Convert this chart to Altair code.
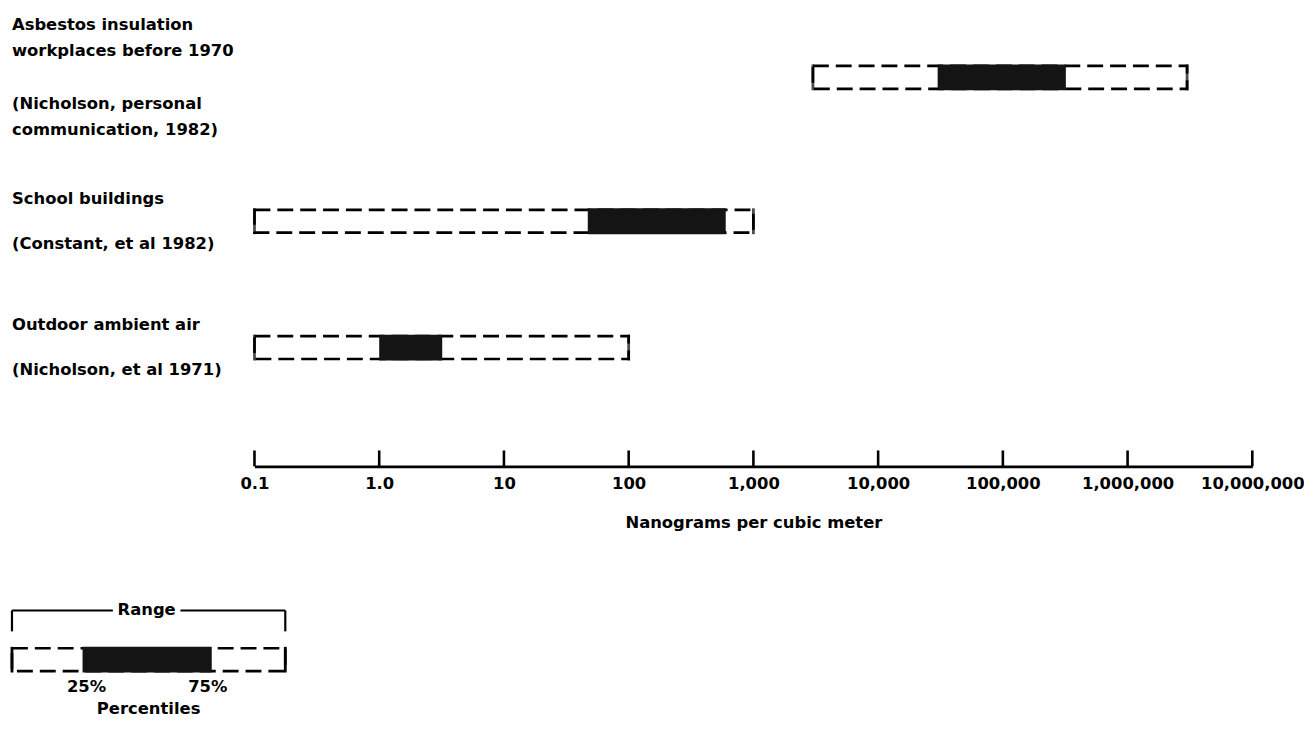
import altair as alt
import pandas as pd

# ---------------- data ----------------
categories = ["Asbestos insulation workplaces", "School buildings", "Outdoor ambient air"]
label_titles = [
    ["Asbestos insulation", "workplaces before 1970"],
    ["School buildings"],
    ["Outdoor ambient air"],
]
label_cites = [
    ["(Nicholson, personal", "communication, 1982)"],
    ["(Constant, et al 1982)"],
    ["(Nicholson, et al 1971)"],
]
range_low = [3000, 0.1, 0.1]
range_high = [3000000, 1000, 100]
pct25 = [30000, 47, 1.0]
pct75 = [320000, 600, 3.2]

tick_values = [0.1, 1, 10, 100, 1000, 10000, 100000, 1000000, 10000000]
tick_labels = ["0.1", "1.0", "10", "100", "1,000", "10,000", "100,000", "1,000,000", "10,000,000"]

legend_texts = ["Range", "25%", "75%", "Percentiles"]

# ---------------- layout helpers ----------------
W, H = 1004, 459
FONT = "DejaVu Sans"
n_lines = [len(t) + 1 + len(c) for t, c in zip(label_titles, label_cites)]
gap = 4.22          # vertical gap between label blocks (line units)
unit_px = 18        # pixels per line unit on the row scale
top_px = 19
slot = []
acc = 0.0
for n in n_lines:
    slot.append(acc + n / 2)
    acc += n + gap

df = pd.DataFrame({
    "cat": categories,
    "title": label_titles,
    "cite": label_cites,
    "low": range_low,
    "high": range_high,
    "p25": pct25,
    "p75": pct75,
    "slot": slot,
})

label_expr = ""
for v, l in zip(tick_values, tick_labels):
    label_expr += f"datum.value < {v * 3.16} ? '{l}' : "
label_expr += "''"

xscale = alt.Scale(type="log", domain=[tick_values[0], tick_values[-1]], nice=False)
yscale = alt.Scale(domain=[-top_px / unit_px, (H - top_px) / unit_px], reverse=True, nice=False, zero=False)
yenc = alt.Y("slot:Q", scale=yscale, axis=None)

base = alt.Chart(df)

range_box = base.mark_bar(
    orient="horizontal", size=23, filled=False, stroke="black",
    strokeWidth=2.7, strokeDash=[16, 7]
).encode(
    x=alt.X("low:Q", scale=xscale, axis=alt.Axis(
        values=tick_values, labelExpr=label_expr, tickSize=0, grid=False,
        domainColor="black", domainWidth=2.6,
        labelFont=FONT, labelFontWeight="bold", labelFontSize=16.5, labelColor="black",
        labelPadding=9, labelFlush=False, labelOverlap=False,
        title="Nanograms per cubic meter", titleFont=FONT, titleFontWeight="bold",
        titleFontSize=16.5, titleColor="black", titlePadding=23,
    )),
    x2="high:Q",
    y=yenc,
)

end_lo = base.mark_tick(orient="vertical", size=26, thickness=2.8, color="black").encode(
    x=alt.X("low:Q", scale=xscale), y=yenc)
end_hi = base.mark_tick(orient="vertical", size=26, thickness=2.8, color="black").encode(
    x=alt.X("high:Q", scale=xscale), y=yenc)

pct_box = base.mark_bar(orient="horizontal", size=26, color="#141414").encode(
    x=alt.X("p25:Q", scale=xscale), x2="p75:Q", y=yenc)

text_props = dict(align="left", baseline="middle", font=FONT, fontWeight="bold",
                  fontSize=16.5, color="black")
lh_big, lh_small = 26.5, 22.5
big = base.transform_filter(alt.datum.cat == categories[0])
small = base.transform_filter(alt.datum.cat != categories[0])
title_big = big.mark_text(lineHeight=lh_big, dy=-(n_lines[0] - 1) * lh_big / 2, **text_props).encode(
    x=alt.value(-244), y=yenc, text="title")
cite_big = big.mark_text(lineHeight=lh_big, dy=lh_big, **text_props).encode(
    x=alt.value(-244), y=yenc, text="cite")
title_small = small.mark_text(lineHeight=lh_small, dy=-(n_lines[1] - 1) * lh_small / 2, **text_props).encode(
    x=alt.value(-244), y=yenc, text="title")
cite_small = small.mark_text(lineHeight=lh_small, dy=lh_small, **text_props).encode(
    x=alt.value(-244), y=yenc, text="cite")

ticks = alt.Chart(pd.DataFrame({"v": tick_values})).mark_rule(
    color="black", strokeWidth=2.6).encode(
    x=alt.X("v:Q", scale=xscale), y=alt.value(H - 16), y2=alt.value(H))

# ---------------- legend (explanatory diagram) ----------------
one = alt.Chart(pd.DataFrame({"k": [0]}))
lx0, lx1 = -244, 31
ly_range, ly0, ly1 = 604, 642, 665
fx0, fx1 = -173, -43
lcx = (lx0 + lx1) / 2

def rule(x, x2, y, y2, sw=2.2):
    return one.mark_rule(color="black", strokeWidth=sw).encode(
        x=alt.value(x), x2=alt.value(x2), y=alt.value(y), y2=alt.value(y2))

leg_range_l = rule(lx0, lcx - 36, ly_range, ly_range)
leg_range_r = rule(lcx + 32, lx1, ly_range, ly_range)
leg_hook_l = rule(lx0, lx0, ly_range, ly_range + 21)
leg_hook_r = rule(lx1, lx1, ly_range, ly_range + 21)
leg_box = one.mark_rect(filled=False, stroke="black", strokeWidth=2.7, strokeDash=[16, 7]).encode(
    x=alt.value(lx0), x2=alt.value(lx1), y=alt.value(ly0), y2=alt.value(ly1))
leg_fill = one.mark_rect(color="#141414").encode(
    x=alt.value(fx0), x2=alt.value(fx1), y=alt.value(ly0 - 1.4), y2=alt.value(ly1 + 1.4))
leg_end_l = rule(lx0, lx0, ly0 - 1.4, ly1 + 1.4, 2.8)
leg_end_r = rule(lx1, lx1, ly0 - 1.4, ly1 + 1.4, 2.8)

ltext = dict(align="center", baseline="middle", font=FONT, fontWeight="bold",
             fontSize=16.5, color="black")
leg_t_range = one.mark_text(text=legend_texts[0], **ltext).encode(x=alt.value(lcx - 2), y=alt.value(ly_range))
leg_t_25 = one.mark_text(text=legend_texts[1], **ltext).encode(x=alt.value(fx0 + 4), y=alt.value(681))
leg_t_75 = one.mark_text(text=legend_texts[2], **ltext).encode(x=alt.value(fx1 - 4), y=alt.value(681))
leg_t_pct = one.mark_text(text=legend_texts[3], **ltext).encode(x=alt.value(lcx), y=alt.value(703))

chart = alt.layer(
    range_box, end_lo, end_hi, pct_box, title_big, cite_big, title_small, cite_small, ticks,
    leg_range_l, leg_range_r, leg_hook_l, leg_hook_r, leg_box, leg_fill, leg_end_l, leg_end_r,
    leg_t_range, leg_t_25, leg_t_75, leg_t_pct,
).properties(
    width=W, height=H,
    padding={"left": 248, "top": 0, "right": 52, "bottom": 255},
    autosize=alt.AutoSizeParams(type="none"),
    background="white",
).configure_view(stroke=None)

chart.save("out.html", embed_options={"renderer": "svg", "actions": False})
